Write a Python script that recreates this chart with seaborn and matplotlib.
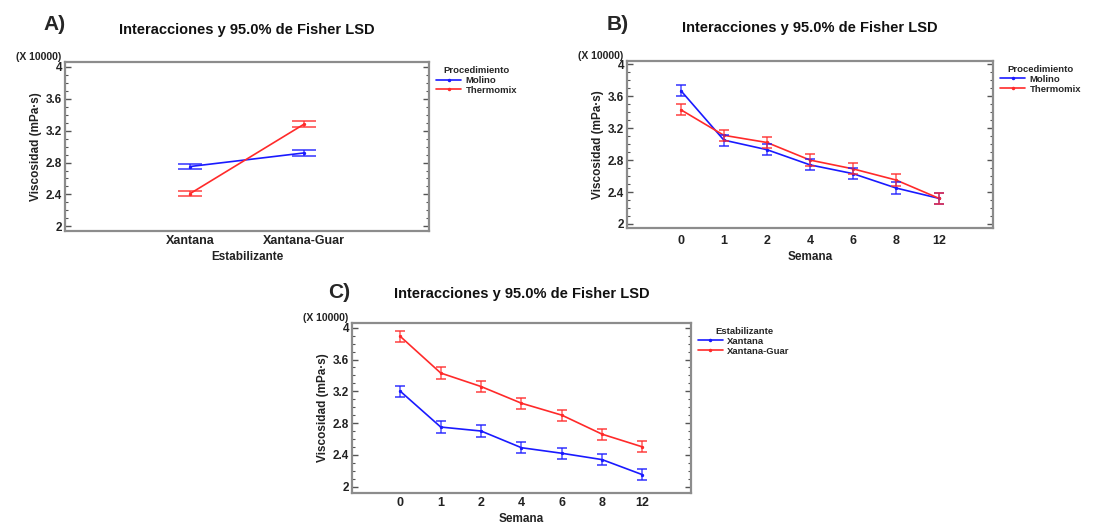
import numpy as np
import pandas as pd
import matplotlib
matplotlib.use("Agg")
import matplotlib.pyplot as plt
from matplotlib.ticker import MultipleLocator, FormatStrFormatter
from matplotlib.lines import Line2D
import seaborn as sns

# panel A: Estabilizante x Procedimiento
estabilizante = ["Xantana", "Xantana-Guar"]
a_molino = [2.75, 2.92]
a_thermomix = [2.41, 3.28]
a_err = 0.035

# panel B: Semana x Procedimiento
semana = ["0", "1", "2", "4", "6", "8", "12"]
b_molino = [3.67, 3.05, 2.93, 2.74, 2.63, 2.45, 2.32]
b_thermomix = [3.43, 3.11, 3.02, 2.80, 2.69, 2.55, 2.32]

# panel C: Semana x Estabilizante
c_xantana = [3.20, 2.75, 2.70, 2.49, 2.42, 2.34, 2.15]
c_xantana_guar = [3.89, 3.43, 3.26, 3.05, 2.90, 2.66, 2.50]
bc_err = 0.07

sns.set_theme(style="white")
plt.rcParams['font.family'] = ['Liberation Sans', 'DejaVu Sans']
plt.rcParams['font.weight'] = 'bold'

BLUE = "#1a1aff"
RED = "#ff2a2a"
title = "Interacciones y 95.0% de Fisher LSD"
ylab = "Viscosidad (mPa·s)"

fig = plt.figure(figsize=(11.18, 5.24), dpi=100)


def panel(ax, cats, s1, s2, n1, n2, err, capsize, xlab, legtitle, xlim, ylim, pad, xpad):
    df = pd.DataFrame({
        "x": cats * 2,
        "y": s1 + s2,
        "grupo": [n1] * len(cats) + [n2] * len(cats),
    })
    sns.pointplot(data=df, x="x", y="y", hue="grupo", order=cats,
                  palette=[BLUE, RED], errorbar=None, markers=".",
                  markersize=3, linewidth=1.2, ax=ax, legend=False)
    pos = np.arange(len(cats))
    for vals, c in [(s1, BLUE), (s2, RED)]:
        ax.errorbar(pos, vals, yerr=err, fmt="none", ecolor=c, alpha=0.7,
                    elinewidth=1.2, capsize=capsize, capthick=1.4)
    ax.set_xlim(*xlim)
    ax.set_ylim(*ylim)
    ax.yaxis.set_major_locator(MultipleLocator(0.4))
    ax.yaxis.set_minor_locator(MultipleLocator(0.1))
    ax.yaxis.set_major_formatter(FormatStrFormatter("%g"))
    ax.tick_params(axis="y", which="both", direction="in", left=True, right=True,
                   labelsize=8.5, pad=2, colors="#555555", labelcolor="#222222")
    ax.tick_params(axis="y", which="major", length=4, width=1)
    ax.tick_params(axis="y", which="minor", length=2.5, width=0.8)
    ax.tick_params(axis="x", bottom=False, length=0, labelsize=9, pad=xpad,
                   labelcolor="#222222")
    for t in ax.get_xticklabels() + ax.get_yticklabels():
        t.set_fontweight("bold")
    for sp in ax.spines.values():
        sp.set_color("#8c8c8c")
        sp.set_linewidth(1.6)
    ax.set_xlabel(xlab, fontsize=8.5, fontweight="bold", labelpad=3, color="#222222")
    ax.set_ylabel(ylab, fontsize=8.5, fontweight="bold", labelpad=3, color="#222222")
    ax.set_title(title, fontsize=10.5, fontweight="bold", pad=pad, color="#111111")
    ax.text(-0.01, 1.0, "(X 10000)", transform=ax.transAxes, ha="right",
            va="bottom", fontsize=7.5, fontweight="bold", color="#222222")
    handles = [Line2D([0], [0], color=BLUE, lw=1.2, marker=".", markersize=3),
               Line2D([0], [0], color=RED, lw=1.2, marker=".", markersize=3)]
    leg = ax.legend(handles, [n1, n2], title=legtitle, loc="upper left",
                    bbox_to_anchor=(1.01, 1.0), frameon=False,
                    prop={"weight": "bold", "size": 6.8},
                    title_fontproperties={"weight": "bold", "size": 6.8},
                    handlelength=2.6, labelspacing=0.1, borderaxespad=0.0,
                    handletextpad=0.5)
    leg._legend_box.align = "center"


axA = fig.add_axes([0.0581, 0.559, 0.3256, 0.3225])
panel(axA, estabilizante, a_molino, a_thermomix, "Molino", "Thermomix",
      a_err, 8.5, "Estabilizante", "Procedimiento", (-1.1, 2.1), (1.94, 4.06), 20, 3)

axB = fig.add_axes([0.5608, 0.5649, 0.3274, 0.3187])
panel(axB, semana, b_molino, b_thermomix, "Molino", "Thermomix",
      bc_err, 3.6, "Semana", "Procedimiento", (-1.25, 7.25), (1.95, 4.04), 21, 5)

axC = fig.add_axes([0.3148, 0.0592, 0.3032, 0.3244])
panel(axC, semana, c_xantana, c_xantana_guar, "Xantana", "Xantana-Guar",
      bc_err, 3.6, "Semana", "Estabilizante", (-1.2, 7.2), (1.92, 4.06), 18, 3)

fig.text(43 / 1118, 1 - 25 / 524, "A)", fontsize=15, fontweight="bold", va="center", ha="left")
fig.text(607 / 1118, 1 - 25 / 524, "B)", fontsize=15, fontweight="bold", va="center", ha="left")
fig.text(328 / 1118, 1 - 292 / 524, "C)", fontsize=15, fontweight="bold", va="center", ha="left")

fig.savefig("out.png", dpi=100)
